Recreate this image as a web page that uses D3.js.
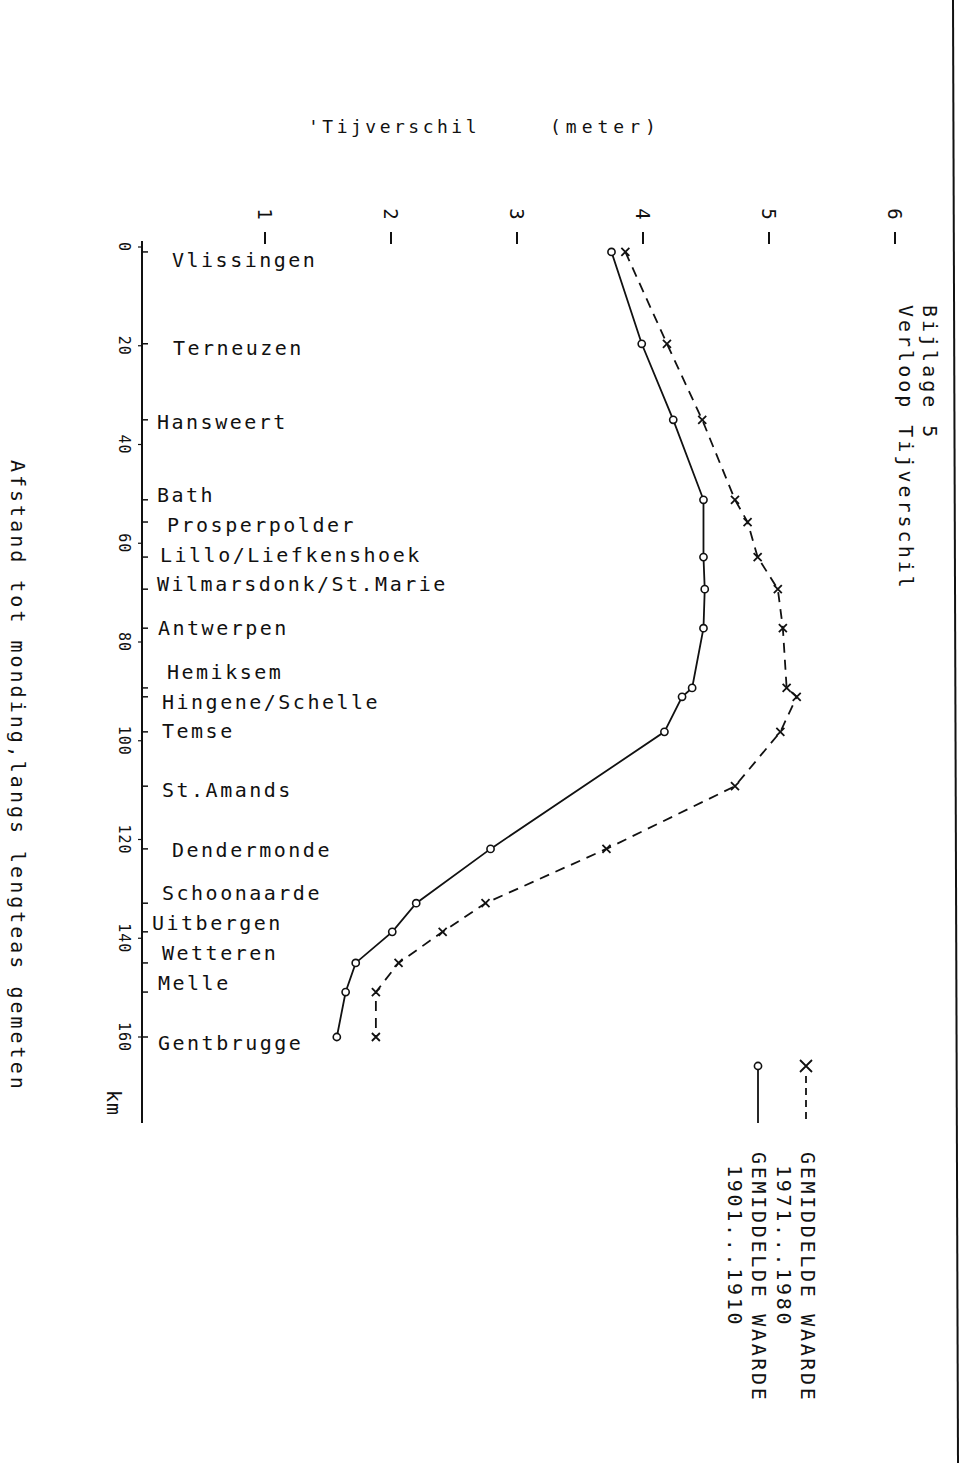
<!DOCTYPE html>
<html><head><meta charset="utf-8">
<script src="https://cdn.jsdelivr.net/npm/d3@7"></script>
<style>body{margin:0;background:#fff} svg{display:block}</style>
</head><body>
<svg id="c" width="960" height="1463"></svg>
<script>
// ---- data ----
const stations = ["Vlissingen","Terneuzen","Hansweert","Bath","Prosperpolder","Lillo/Liefkenshoek","Wilmarsdonk/St.Marie","Antwerpen","Hemiksem","Hingene/Schelle","Temse","St.Amands","Dendermonde","Schoonaarde","Uitbergen","Wetteren","Melle","Gentbrugge"];
const stationKm = [1.0,19.6,35.0,51.2,55.7,62.8,69.3,77.2,89.3,91.1,98.2,109.2,121.9,132.9,138.7,145.0,150.9,160.0];
const range1971 = [3.86,4.19,4.47,4.73,4.83,4.91,5.07,5.11,5.14,5.22,5.09,4.73,3.71,2.75,2.41,2.06,1.88,1.88];
const range1901 = [3.75,3.99,4.24,4.48,null,4.48,4.49,4.48,4.39,4.31,4.17,null,2.79,2.20,2.01,1.72,1.64,1.57];
const meterTicks = [1,2,3,4,5,6];
const kmTicks = [0,20,40,60,80,100,120,140,160];
const legendLabels = [["GEMIDDELDE WAARDE","1971...1980"],["GEMIDDELDE WAARDE","1901...1910"]];

// ---- layout ----
const svg = d3.select("#c");
const x = d3.scaleLinear().domain([0,6]).range([139,895]);
const y = d3.scaleLinear().domain([0,160]).range([247,1037]);
const ink = "#111";
const mono = "'DejaVu Sans Mono', monospace";
const axisX = 142;

// label nudges (layout only)
const labelDx = [172,173,157,157,167,160,157,158,167,162,162,162,172,162,152,162,158,158];
const labelDy = [8,4,2,-5,3,-2,-5,0,-16,5,-1,4,1,-10,-9,-10,-9,6];

// right border
svg.append("line").attr("x1",953).attr("y1",0).attr("x2",958).attr("y2",1463)
  .attr("stroke",ink).attr("stroke-width",2);

// titles
function vtext(tx,ty,str,size,spacing,anchor){
  return svg.append("text").attr("transform",`translate(${tx},${ty}) rotate(90)`)
    .attr("font-family",mono).attr("font-size",size).attr("letter-spacing",spacing)
    .attr("text-anchor",anchor||"start").attr("dominant-baseline","central")
    .attr("fill",ink).text(str);
}
vtext(930,305,"Bijlage 5",20,3);
vtext(906,305,"Verloop Tijverschil",20,3);
vtext(18,460,"Afstand tot monding,langs lengteas gemeten",20,3);

svg.append("text").attr("x",308).attr("y",133).attr("font-family",mono).attr("font-size",18)
  .attr("letter-spacing",3.5).attr("fill",ink).text("'Tijverschil");
svg.append("text").attr("x",550).attr("y",133).attr("font-family",mono).attr("font-size",18)
  .attr("letter-spacing",5).attr("fill",ink).text("(meter)");

// meter ticks (top)
const mt = svg.append("g");
meterTicks.forEach(t=>{
  mt.append("line").attr("x1",x(t)).attr("x2",x(t)).attr("y1",232).attr("y2",244)
    .attr("stroke",ink).attr("stroke-width",2);
  mt.append("text").attr("transform",`translate(${x(t)},214) rotate(90)`)
    .attr("font-family",mono).attr("font-size",19).attr("text-anchor","middle")
    .attr("dominant-baseline","central").attr("fill",ink).text(t);
});

// km axis
svg.append("line").attr("x1",axisX).attr("x2",axisX).attr("y1",241).attr("y2",1123)
  .attr("stroke",ink).attr("stroke-width",2);
kmTicks.forEach(k=>{
  vtext(124,y(k),String(k),15,1,"middle");
  svg.append("line").attr("x1",axisX-4).attr("x2",axisX).attr("y1",y(k)).attr("y2",y(k))
    .attr("stroke",ink).attr("stroke-width",1.2);
});
vtext(114,1103,"km",20,1,"middle");

// station ticks + labels
stations.forEach((s,i)=>{
  svg.append("line").attr("x1",axisX).attr("x2",axisX+6).attr("y1",y(stationKm[i])).attr("y2",y(stationKm[i]))
    .attr("stroke",ink).attr("stroke-width",1.5);
  svg.append("text").attr("x",labelDx[i]).attr("y",y(stationKm[i])+labelDy[i])
    .attr("font-family",mono).attr("font-size",20).attr("letter-spacing",2.5)
    .attr("dominant-baseline","central").attr("fill",ink).text(s);
});

// series
const s1971 = stations.map((s,i)=>({km:stationKm[i],v:range1971[i]})).filter(d=>d.v!=null);
const s1901 = stations.map((s,i)=>({km:stationKm[i],v:range1901[i]})).filter(d=>d.v!=null);
const line = d3.line().x(d=>x(d.v)).y(d=>y(d.km));

svg.append("path").datum(s1971).attr("d",line).attr("fill","none").attr("stroke",ink)
  .attr("stroke-width",1.8).attr("stroke-dasharray","10,7");
svg.append("path").datum(s1901).attr("d",line).attr("fill","none").attr("stroke",ink)
  .attr("stroke-width",1.8);

const xMark = "M-4,-4L4,4M-4,4L4,-4";
svg.append("g").selectAll("path").data(s1971).join("path")
  .attr("transform",d=>`translate(${x(d.v)},${y(d.km)})`).attr("d",xMark)
  .attr("stroke",ink).attr("stroke-width",1.8).attr("fill","none");
svg.append("g").selectAll("circle").data(s1901).join("circle")
  .attr("cx",d=>x(d.v)).attr("cy",d=>y(d.km)).attr("r",3.6)
  .attr("fill","#fff").attr("stroke",ink).attr("stroke-width",1.6);

// legend
const lg = svg.append("g");
lg.append("path").attr("transform","translate(806,1066)").attr("d","M-6,-6L6,6M-6,6L6,-6")
  .attr("stroke",ink).attr("stroke-width",1.8).attr("fill","none");
lg.append("line").attr("x1",806).attr("x2",806).attr("y1",1076).attr("y2",1120)
  .attr("stroke",ink).attr("stroke-width",1.8).attr("stroke-dasharray","7,5");
lg.append("circle").attr("cx",758).attr("cy",1066).attr("r",3.6).attr("fill","#fff")
  .attr("stroke",ink).attr("stroke-width",1.6);
lg.append("line").attr("x1",758).attr("x2",758).attr("y1",1070).attr("y2",1123)
  .attr("stroke",ink).attr("stroke-width",1.8);
vtext(808,1152,legendLabels[0][0],20,2.7);
vtext(784,1165,legendLabels[0][1],20,2.7);
vtext(759,1152,legendLabels[1][0],20,2.7);
vtext(735,1165,legendLabels[1][1],20,2.7);
</script>
</body></html>
